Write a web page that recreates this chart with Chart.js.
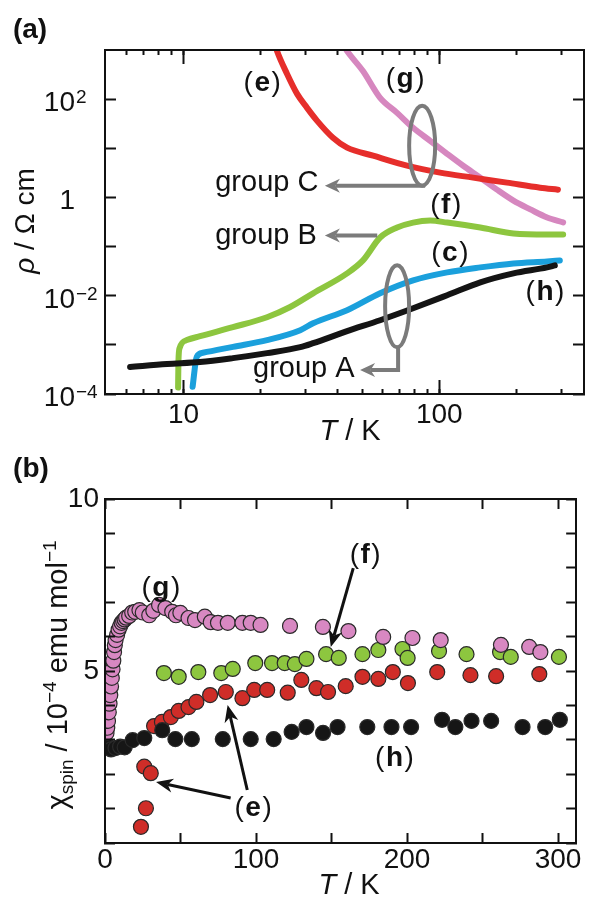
<!DOCTYPE html>
<html><head><meta charset="utf-8">
<script src="https://cdn.jsdelivr.net/npm/chart.js@4.4.0/dist/chart.umd.min.js"></script>
<style>
html,body{margin:0;padding:0;background:#fff;}
#wrap{position:relative;width:592px;height:897px;background:#fff;}
#ca{position:absolute;left:0;top:0;width:592px;height:450px;}
#cb{position:absolute;left:0;top:450px;width:592px;height:447px;}
</style></head><body>
<div id="wrap"><canvas id="ca" width="592" height="450"></canvas><canvas id="cb" width="592" height="447"></canvas></div>
<script>
// ---------- Panel (a): resistivity (T in K, rho in ohm cm) ----------
const rhoTe = [22.2, 23.2, 25.4, 27.8, 30.4, 33.3, 38.4, 43.6, 55.1, 74.8, 100.7, 135.5, 184, 248, 291];
const rhoE  = [2000, 953, 325, 128, 66.5, 36.2, 16.4, 10.3, 7.06, 4.42, 3.19, 2.53, 2.0, 1.58, 1.44];
const rhoTg = [42, 43.6, 50.3, 58.7, 68.4, 79.0, 92.1, 107.3, 124, 144.7, 168, 195, 227, 264, 305];
const rhoG  = [1300, 950, 373, 106, 52.5, 26.1, 14.2, 7.73, 4.41, 2.52, 1.44, 0.86, 0.57, 0.39, 0.31];
const rhoTf = [9.52, 9.55, 9.65, 10.3, 11.6, 15.6, 21.2, 26.0, 32.1, 43.6, 50.3, 58.7, 68.4, 79.0, 92.1, 107.3, 144.7, 195, 264, 305];
const rhoF  = [1.35e-4, 4.5e-4, 8.6e-4, 1.25e-3, 1.5e-3, 2.29e-3, 3.65e-3, 5.82e-3, 0.0112, 0.0285, 0.0523, 0.153, 0.244, 0.308, 0.338, 0.308, 0.244, 0.185, 0.176, 0.176];
const rhoTc = [10.85, 11.26, 11.9, 15.6, 21.2, 28.6, 32.1, 43.6, 58.7, 79.0, 107.3, 144.7, 195, 264, 296];
const rhoC  = [1.4e-4, 5.71e-4, 6.89e-4, 9.12e-4, 1.25e-3, 1.99e-3, 2.75e-3, 5.06e-3, 0.0112, 0.0205, 0.0298, 0.0377, 0.0454, 0.0499, 0.0523];
const rhoTh = [6.18, 8.62, 11.6, 15.6, 21.2, 28.6, 32.1, 43.6, 58.7, 79.0, 107.3, 144.7, 195, 264, 283];
const rhoH  = [3.53e-4, 4.07e-4, 4.46e-4, 5.37e-4, 6.79e-4, 8.97e-4, 1.08e-3, 1.90e-3, 3.17e-3, 5.55e-3, 0.0102, 0.0187, 0.0285, 0.0377, 0.0414];

const xaRange = [4.93, 368];
const yaRange = [1e-4, 1000];
const xaMinorTicks = [6, 7, 8, 9, 10, 20, 30, 40, 50, 60, 70, 80, 90, 100, 200, 300];
const xaMajorTicks = [10, 100];
const xaTickLabels = new Map([[10, '10'], [100, '100']]);
const yaTicks = [1e-4, 1e-3, 1e-2, 1e-1, 1, 10, 100];
// [value, base, exponent]
const yaTickLabels = [[1e-4, '10', '\u22124'], [1e-2, '10', '\u22122'], [1, '1', ''], [100, '10', '2']];

// ---------- Panel (b): spin susceptibility (T in K, chi in 1e-4 emu/mol) ----------
const chiTg = [1.0,1.5,2.0,2.5,3.0,3.5,4.0,4.5,5.0,5.5,6.0,6.5,7.0,8.0,9.0,10,11,12,13,14,16,18,20,22.8,25,29.3,32,35.8,40,44.5,47,49.9,55.3,59.6,66.1,70,74.8,81.3,91,96.5,103,122.5,144.3,161.2,184.2,203.6,222.3,262.2,280.9,288.3];
const chiG  = [3.2,3.35,3.55,3.8,4.05,4.3,4.55,4.8,5.05,5.3,5.55,5.75,5.9,6.05,6.2,6.3,6.4,6.45,6.5,6.55,6.6,6.7,6.72,6.77,6.7,6.62,6.75,6.92,6.83,6.72,6.62,6.69,6.54,6.48,6.58,6.42,6.4,6.4,6.4,6.4,6.34,6.31,6.28,6.16,5.99,5.96,5.90,5.76,5.70,5.55];
const chiTf = [39,48.8,61.8,77,84.6,99.5,110.6,119,125.7,133.4,146.4,154.8,170.5,181,197,200.4,221.2,239.4,261.6,268.7,300.6];
const chiF  = [4.94,4.83,4.97,4.94,5.06,5.23,5.23,5.23,5.2,5.35,5.49,5.38,5.49,5.61,5.64,5.38,5.58,5.49,5.55,5.41,5.41];
const chiTh = [2,4,7,10,13,18.3,26,37.9,46.6,57.5,78,96.5,111.7,123.6,133.4,144.4,154,173.7,189.7,202.7,223.2,232,242.7,255.7,276.5,291.5,301.2];
const chiH  = [2.8,2.72,2.76,2.8,2.78,2.99,3.05,3.28,3.02,3.02,3.02,3.02,3.02,3.23,3.37,3.2,3.37,3.37,3.37,3.37,3.58,3.37,3.55,3.55,3.37,3.37,3.58];
const chiTe = [23.8,27.1,26,30.3,32.5,37.7,43.6,48.8,55.3,60.5,69.6,80,91,98.8,107.4,121,130,140,147.7,159.4,170.5,181,190.6,200.6,220,242,259,287.6];
const chiE  = [0.47,1.01,2.22,2.03,3.40,3.52,3.66,3.84,3.95,4.10,4.30,4.39,4.21,4.45,4.45,4.37,4.74,4.5,4.39,4.56,4.83,4.77,4.97,4.65,4.97,4.88,4.85,4.91];

const xbRange = [0, 312];
const ybRange = [0, 10];
const xbTicks = [0, 50, 100, 150, 200, 250, 300];
const xbTickLabels = new Map([[0, '0'], [100, '100'], [200, '200'], [300, '300']]);
const ybTicks = [0, 1, 2, 3, 4, 5, 6, 7, 8, 9, 10];
const ybTickLabels = new Map([[5, '5'], [10, '10']]);

// ---------- styling helpers ----------
const FONT = '"Liberation Sans", Arial, Helvetica, sans-serif';
const INK = '#111';
const GRAY = '#7b7b7b';
const pts = (xs, ys) => xs.map((x, i) => ({x: x, y: ys[i]}));

function mkAxis(o) {
  return {
    type: o.type, position: o.position, min: o.range[0], max: o.range[1], weight: o.weight || 0,
    afterBuildTicks: (s) => { s.ticks = o.ticks.map(v => ({value: v})); },
    afterFit: (s) => { if (o.horizontal) s.height = o.size; else s.width = o.size; },
    grid: {display: true, drawOnChartArea: false, drawTicks: true, tickLength: -o.tl, tickWidth: 2, tickColor: INK, z: 1},
    border: {display: true, color: INK, width: 2, z: 1},
    ticks: {display: !!o.labels, autoSkip: false, maxRotation: 0, minRotation: 0, padding: o.pad || 0,
      color: INK, font: {family: FONT, size: 28}, crossAlign: o.crossAlign || 'near',
      callback: (v) => (o.labels && o.labels.has(v)) ? o.labels.get(v) : ''}
  };
}

function rich(ctx, segs, x, y, rot) {
  ctx.save(); ctx.translate(x, y); ctx.rotate(rot);
  let w = 0;
  const ws = segs.map(s => { ctx.font = s[1] + ' ' + s[2] + 'px ' + FONT; const m = ctx.measureText(s[0]).width; w += m; return m; });
  let cx = -w / 2;
  ctx.textBaseline = 'alphabetic'; ctx.textAlign = 'left'; ctx.fillStyle = INK;
  segs.forEach((s, i) => { ctx.font = s[1] + ' ' + s[2] + 'px ' + FONT; ctx.fillText(s[0], cx, s[3] || 0); cx += ws[i]; });
  ctx.restore();
}
function letterLabel(ctx, letter, x, y, size) {
  const fN = size + 'px ' + FONT, fB = 'bold ' + size + 'px ' + FONT;
  ctx.font = fN; const wp = ctx.measureText('(').width, wq = ctx.measureText(')').width;
  ctx.font = fB; const wl = ctx.measureText(letter).width;
  const gap = 1.5; let cx = x - (wp + wl + wq + 2 * gap) / 2;
  ctx.textBaseline = 'middle'; ctx.textAlign = 'left'; ctx.fillStyle = INK;
  ctx.font = fN; ctx.fillText('(', cx, y); cx += wp + gap;
  ctx.font = fB; ctx.fillText(letter, cx, y); cx += wl + gap;
  ctx.font = fN; ctx.fillText(')', cx, y);
}
function arrow(ctx, p, color, lw, hl, hw) {
  const n = p.length, ex = p[n-1][0], ey = p[n-1][1];
  const a = Math.atan2(ey - p[n-2][1], ex - p[n-2][0]);
  const c = Math.cos(a), s = Math.sin(a);
  ctx.strokeStyle = color; ctx.fillStyle = color; ctx.lineWidth = lw; ctx.lineCap = 'butt'; ctx.lineJoin = 'miter';
  ctx.beginPath(); ctx.moveTo(p[0][0], p[0][1]);
  for (let i = 1; i < n - 1; i++) ctx.lineTo(p[i][0], p[i][1]);
  ctx.lineTo(ex - hl * 0.7 * c, ey - hl * 0.7 * s); ctx.stroke();
  ctx.beginPath(); ctx.moveTo(ex, ey);
  ctx.lineTo(ex - hl * c - hw * s, ey - hl * s + hw * c);
  ctx.lineTo(ex - hl * 0.7 * c, ey - hl * 0.7 * s);
  ctx.lineTo(ex - hl * c + hw * s, ey - hl * s - hw * c);
  ctx.closePath(); ctx.fill();
}

// ---------- annotations ----------
const annA = {
  id: 'annA',
  afterDraw(chart) {
    const ctx = chart.ctx, X = chart.scales.x, Y = chart.scales.y;
    const P = (T, r) => [X.getPixelForValue(T), Y.getPixelForValue(r)];
    ctx.save();
    // y tick labels with superscript exponents, placed on the y scale's ticks
    yaTickLabels.forEach(([v, base, ex]) => {
      const py = Y.getPixelForValue(v);
      ctx.textBaseline = 'alphabetic'; ctx.fillStyle = INK;
      ctx.font = '28px ' + FONT; ctx.textAlign = 'right';
      ctx.fillText(base, 75, py + 12);
      if (ex) { ctx.font = '19px ' + FONT; ctx.textAlign = 'left'; ctx.fillText(ex, 76, py + 4); }
    });
    // group C ellipse + arrow
    ctx.strokeStyle = GRAY; ctx.lineWidth = 4;
    const eC = P(85.7, 11.3);
    ctx.beginPath(); ctx.ellipse(eC[0], eC[1], 13, 40, 0, 0, 2 * Math.PI); ctx.stroke();
    arrow(ctx, [[eC[0] + 3, eC[1] + 40], [P(35.7, 1)[0], eC[1] + 40]], GRAY, 4, 15, 7);
    // group B arrow
    const bS = P(57.2, 0.168), bE = P(35.7, 0.168);
    arrow(ctx, [bS, bE], GRAY, 4, 15, 7);
    // group A ellipse + arrow
    const eA = P(68.4, 6.1e-3);
    ctx.strokeStyle = GRAY; ctx.lineWidth = 4;
    ctx.beginPath(); ctx.ellipse(eA[0], eA[1], 12, 41, 0, 0, 2 * Math.PI); ctx.stroke();
    const aY = P(1, 3.07e-4)[1];
    arrow(ctx, [[eA[0] + 1, eA[1] + 41], [eA[0] + 1, aY], [P(49.0, 1)[0], aY]], GRAY, 4, 15, 7);
    // text
    ctx.fillStyle = INK; ctx.textBaseline = 'middle'; ctx.textAlign = 'left';
    ctx.font = '29px ' + FONT;
    let q = P(13.3, 2.0); ctx.fillText('group C', q[0], q[1]);
    q = P(13.3, 0.161); ctx.fillText('group B', q[0], q[1]);
    q = P(18.7, 3.2e-4); ctx.fillText('group A', q[0], q[1]);
    q = P(20.3, 214); letterLabel(ctx, 'e', q[0], q[1], 28);
    q = P(73.5, 258); letterLabel(ctx, 'g', q[0], q[1], 28);
    q = P(106, 0.68); letterLabel(ctx, 'f', q[0], q[1], 28);
    q = P(110, 0.0727); letterLabel(ctx, 'c', q[0], q[1], 28);
    q = P(259, 0.0117); letterLabel(ctx, 'h', q[0], q[1], 28);
    // panel label & axis titles
    ctx.fillStyle = INK; ctx.textAlign = 'center'; ctx.textBaseline = 'middle';
    ctx.font = 'bold 28px ' + FONT; ctx.fillText('(a)', 30, 30);
    rich(ctx, [['T', 'italic', 29], [' / K', 'normal', 29]], 350, 440, 0);
    rich(ctx, [['\u03C1', 'italic', 28], [' / \u03A9 cm', 'normal', 28]], 34, 221, -Math.PI / 2);
    ctx.restore();
  }
};
const annB = {
  id: 'annB',
  afterDraw(chart) {
    const ctx = chart.ctx, X = chart.scales.x, Y = chart.scales.y;
    const P = (T, v) => [X.getPixelForValue(T), Y.getPixelForValue(v)];
    ctx.save();
    arrow(ctx, [P(164.4, 7.99), P(149.5, 5.70)], INK, 3, 17, 7);
    arrow(ctx, [P(83.2, 1.31), P(33.8, 1.77)], INK, 3, 17, 7);
    arrow(ctx, [P(94.2, 1.54), P(81.2, 4.01)], INK, 3, 17, 7);
    let q = P(37.0, 7.41); letterLabel(ctx, 'g', q[0], q[1], 28);
    q = P(172.3, 8.37); letterLabel(ctx, 'f', q[0], q[1], 28);
    q = P(191.7, 2.47); letterLabel(ctx, 'h', q[0], q[1], 28);
    q = P(98.1, 1.02); letterLabel(ctx, 'e', q[0], q[1], 28);
    ctx.fillStyle = INK; ctx.textAlign = 'center'; ctx.textBaseline = 'middle';
    ctx.font = 'bold 28px ' + FONT; ctx.fillText('(b)', 31, 19);
    rich(ctx, [['T', 'italic', 29], [' / K', 'normal', 29]], 349, 444, 0);
    rich(ctx, [['\u03C7', 'normal', 29], ['spin', 'normal', 19, 6], [' / 10', 'normal', 29], ['\u22124', 'normal', 19, -11],
               [' emu mol', 'normal', 29], ['\u22121', 'normal', 19, -11]], 67, 225, -Math.PI / 2);
    ctx.restore();
  }
};

// ---------- chart (a) ----------
const lineDs = (label, xs, ys, color) => ({label: label, data: pts(xs, ys), showLine: true, borderColor: color,
  backgroundColor: color, borderWidth: 6, pointRadius: 0, borderCapStyle: 'round', borderJoinStyle: 'round',
  cubicInterpolationMode: 'monotone', clip: 0, xAxisID: 'x', yAxisID: 'y'});

new Chart(document.getElementById('ca'), {
  type: 'scatter',
  data: {datasets: [
    lineDs('(h)', rhoTh, rhoH, '#141414'),
    lineDs('(e)', rhoTe, rhoE, '#e62e2b'),
    lineDs('(f)', rhoTf, rhoF, '#8dc63f'),
    lineDs('(c)', rhoTc, rhoC, '#1ba0dc'),
    lineDs('(g)', rhoTg, rhoG, '#d687bf')
  ]},
  options: {
    responsive: false, animation: false, devicePixelRatio: 1, events: [],
    layout: {padding: {top: 50, right: 8, left: 0, bottom: 0}},
    plugins: {legend: {display: false}, tooltip: {enabled: false}},
    scales: {
      x: mkAxis({type: 'logarithmic', position: 'bottom', range: xaRange, ticks: xaMinorTicks, horizontal: true, size: 56, tl: 5, labels: xaTickLabels, pad: 9, weight: 1}),
      xM: mkAxis({type: 'logarithmic', position: 'bottom', range: xaRange, ticks: xaMajorTicks, horizontal: true, size: 0, tl: 14, weight: 0}),
      xt: mkAxis({type: 'logarithmic', position: 'top', range: xaRange, ticks: xaMinorTicks, horizontal: true, size: 0, tl: 5, weight: 1}),
      xtM: mkAxis({type: 'logarithmic', position: 'top', range: xaRange, ticks: xaMajorTicks, horizontal: true, size: 0, tl: 14, weight: 0}),
      y: mkAxis({type: 'logarithmic', position: 'left', range: yaRange, ticks: yaTicks, horizontal: false, size: 105, tl: 11}),
      yr: mkAxis({type: 'logarithmic', position: 'right', range: yaRange, ticks: yaTicks, horizontal: false, size: 0, tl: 11})
    }
  },
  plugins: [annA]
});

// ---------- chart (b) ----------
const dotDs = (label, xs, ys, color) => ({label: label, data: pts(xs, ys), showLine: false, backgroundColor: color,
  borderColor: '#2a2a2a', borderWidth: 1.2, pointRadius: 7.5, pointBorderWidth: 1.2, xAxisID: 'x', yAxisID: 'y'});

new Chart(document.getElementById('cb'), {
  type: 'scatter',
  data: {datasets: [
    dotDs('(g)', chiTg, chiG, '#d888c2'),
    dotDs('(f)', chiTf, chiF, '#8dc63f'),
    dotDs('(h)', chiTh, chiH, '#161616'),
    dotDs('(e)', chiTe, chiE, '#cf2d28')
  ]},
  options: {
    responsive: false, animation: false, devicePixelRatio: 1, events: [],
    layout: {padding: {top: 49, right: 7, left: 0, bottom: 0}},
    plugins: {legend: {display: false}, tooltip: {enabled: false}},
    scales: {
      x: mkAxis({type: 'linear', position: 'bottom', range: xbRange, ticks: xbTicks, horizontal: true, size: 54, tl: 10, labels: xbTickLabels, pad: 10, weight: 1}),
      xt: mkAxis({type: 'linear', position: 'top', range: xbRange, ticks: xbTicks, horizontal: true, size: 0, tl: 10}),
      y: mkAxis({type: 'linear', position: 'left', range: ybRange, ticks: ybTicks, horizontal: false, size: 105, tl: 10, labels: ybTickLabels, pad: 16}),
      yr: mkAxis({type: 'linear', position: 'right', range: ybRange, ticks: ybTicks, horizontal: false, size: 0, tl: 10})
    }
  },
  plugins: [annB]
});
</script>
</body></html>
